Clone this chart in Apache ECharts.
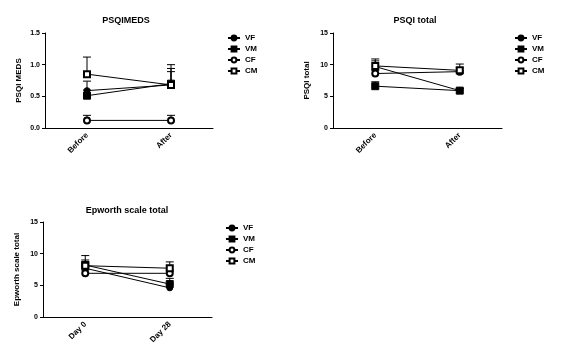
<!DOCTYPE html>
<html><head><meta charset="utf-8">
<script src="https://cdn.jsdelivr.net/npm/echarts@6/dist/echarts.min.js"></script>
<style>html,body{margin:0;padding:0;background:#fff}#c{width:568px;height:361px}</style>
</head><body><div id="c"></div>
<script>
const groups = ['VF','VM','CF','CM'];
const catsPSQI = ['Before','After'];
const catsEpworth = ['Day 0','Day 28'];
const titles = ['PSQIMEDS','PSQI total','Epworth scale total'];
const yNames = ['PSQI MEDS','PSQI total','Epworth scale total'];

// PSQI MEDS means and upper SEM
const medsVF = [0.59, 0.68], medsVM = [0.51, 0.70], medsCF = [0.12, 0.12], medsCM = [0.85, 0.68];
const medsErrVF = [0.15, 0.21], medsErrVM = [0.09, 0.24], medsErrCF = [0.08, 0.08], medsErrCM = [0.27, 0.32];
// PSQI total
const totVF = [9.7, 5.9], totVM = [6.6, 5.9], totCF = [8.6, 8.9], totCM = [9.8, 9.1];
const totErrVF = [1.2, 0.3], totErrVM = [0.7, 0.3], totErrCF = [0.5, 0.6], totErrCM = [0.8, 1.0];
// Epworth
const epVF = [7.7, 4.6], epVM = [8.2, 5.2], epCF = [6.9, 6.9], epCM = [8.1, 7.7];
const epErrVF = [1.0, 0.6], epErrVM = [1.5, 0.9], epErrCF = [0.5, 0.5], epErrCM = [0.9, 1.0];

const yTicks = [[0, 0.5, 1.0, 1.5], [0, 5, 10, 15], [0, 5, 10, 15]];

const panels = [
  {cats: catsPSQI, vals: [medsVF, medsVM, medsCF, medsCM], errs: [medsErrVF, medsErrVM, medsErrCF, medsErrCM], dec: 1},
  {cats: catsPSQI, vals: [totVF, totVM, totCF, totCM], errs: [totErrVF, totErrVM, totErrCF, totErrCM], dec: 0},
  {cats: catsEpworth, vals: [epVF, epVM, epCF, epCM], errs: [epErrVF, epErrVM, epErrCF, epErrCM], dec: 0}
];
const layout = [
  {left: 45, top: 33, width: 168, height: 95, tx: 121, ty: 11, lx: 227, ly: 34},
  {left: 333, top: 33, width: 169, height: 95, tx: 410, ty: 11, lx: 514, ly: 34},
  {left: 43, top: 222, width: 169, height: 95, tx: 122, ty: 201, lx: 225, ly: 224}
];
const symbols = ['circle', 'rect', 'emptyCircle', 'emptyRect'];
const font = 'Liberation Sans';

const grid = [], xAxis = [], yAxis = [], series = [], title = [], legend = [];
panels.forEach((p, i) => {
  const L = layout[i];
  grid.push({left: L.left, top: L.top, width: L.width, height: L.height});
  title.push({text: titles[i], left: L.tx, top: L.ty, textAlign: 'center',
    textStyle: {fontFamily: font, fontSize: 9, fontWeight: 'bold', color: '#000'}});
  xAxis.push({type: 'category', gridIndex: i, data: p.cats, boundaryGap: true,
    axisLine: {lineStyle: {color: '#000', width: 1}},
    axisTick: {alignWithLabel: true, length: 3, lineStyle: {color: '#000'}},
    axisLabel: {rotate: 45, margin: 6, fontFamily: font, fontSize: 8, fontWeight: 'bold', color: '#000'}});
  const t = yTicks[i];
  yAxis.push({type: 'value', gridIndex: i, min: t[0], max: t[t.length - 1], interval: t[1] - t[0],
    name: yNames[i], nameLocation: 'middle', nameGap: 22, nameRotate: 90,
    nameTextStyle: {fontFamily: font, fontSize: 8, fontWeight: 'bold', color: '#000'},
    splitLine: {show: false},
    axisLine: {show: true, lineStyle: {color: '#000', width: 1}},
    axisTick: {show: true, length: 3, lineStyle: {color: '#000'}},
    axisLabel: {margin: 5, fontFamily: font, fontSize: 7, fontWeight: 'bold', color: '#000',
      formatter: v => v.toFixed(p.dec)}});
  legend.push({orient: 'vertical', left: L.lx, top: L.ly, padding: 0, itemWidth: 12, itemHeight: 6, itemGap: 3,
    data: groups, textStyle: {fontFamily: font, fontSize: 8, fontWeight: 'bold', color: '#000', padding: [0, 0, 0, 0]}});
  groups.forEach((g, k) => {
    series.push({type: 'custom', xAxisIndex: i, yAxisIndex: i, silent: true, z: 1,
      data: p.vals[k].map((v, j) => [j, v, v + p.errs[k][j]]),
      renderItem: (params, api) => {
        const a = api.coord([api.value(0), api.value(1)]);
        const b = api.coord([api.value(0), api.value(2)]);
        const s = {stroke: '#000', lineWidth: 1};
        return {type: 'group', children: [
          {type: 'line', shape: {x1: a[0], y1: a[1], x2: b[0], y2: b[1]}, style: s},
          {type: 'line', shape: {x1: b[0] - 4, y1: b[1], x2: b[0] + 4, y2: b[1]}, style: s}
        ]};
      }});
    series.push({type: 'line', name: g, xAxisIndex: i, yAxisIndex: i, z: 3,
      data: p.vals[k], symbol: symbols[k], symbolSize: k === 1 ? 7 : 6,
      lineStyle: {color: '#000', width: 1},
      itemStyle: {color: '#000', borderColor: '#000', borderWidth: 1},
      emphasis: {disabled: true}});
  });
});

const chart = echarts.init(document.getElementById('c'), null, {renderer: 'canvas'});
chart.setOption({animation: false, backgroundColor: '#fff', title, legend, grid, xAxis, yAxis, series});
</script></body></html>
